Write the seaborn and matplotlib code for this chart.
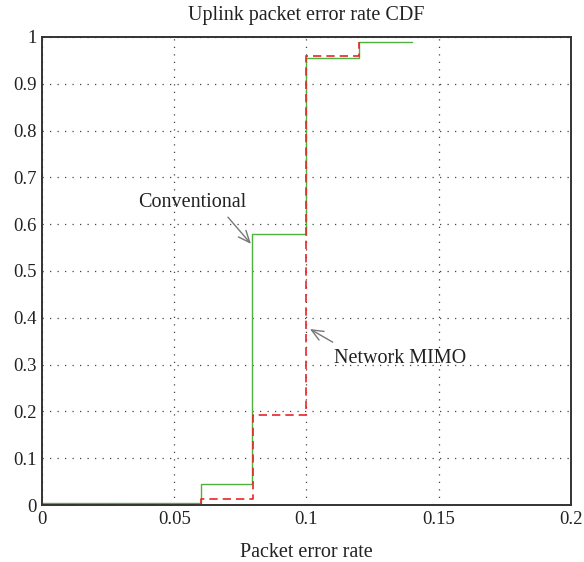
import matplotlib
matplotlib.use("Agg")
import matplotlib.pyplot as plt
import seaborn as sns
import pandas as pd

# step CDF values
conv_x = [0.0, 0.060, 0.0795, 0.100, 0.120, 0.140]
conv_y = [0.0036, 0.045, 0.578, 0.955, 0.990, 0.990]
mimo_x = [0.0, 0.060, 0.0797, 0.100, 0.120]
mimo_y = [0.0, 0.013, 0.193, 0.959, 0.990]

sns.set_theme(style="white")
plt.rcParams['font.family'] = ['Liberation Serif', 'DejaVu Serif']

fig = plt.figure(figsize=(5.84, 5.62), dpi=100)
ax = fig.add_axes([0.0719, 0.1014, 0.9058, 0.8328])

conv = pd.DataFrame({'x': conv_x, 'y': conv_y})
mimo = pd.DataFrame({'x': mimo_x, 'y': mimo_y})

sns.lineplot(data=conv, x='x', y='y', ax=ax, color='#4db33d', lw=1.0,
             drawstyle='steps-post', zorder=3)
sns.lineplot(data=mimo, x='x', y='y', ax=ax, color='#e8262a', lw=1.2,
             drawstyle='steps-post', linestyle=(0, (5, 3)), zorder=4)

ax.set_xlim(0, 0.2)
ax.set_ylim(0, 1)
ax.set_xticks([0, 0.05, 0.1, 0.15, 0.2])
ax.set_xticklabels(['0', '0.05', '0.1', '0.15', '0.2'])
ax.set_yticks([i / 10 for i in range(11)])
ax.set_yticklabels(['0'] + [f'{i/10:.1f}' for i in range(1, 10)] + ['1'])
ax.tick_params(length=0, labelsize=13.5, colors='#222222', pad=4)

ax.grid(True, linestyle=(0, (1, 5)), color='#444444', lw=0.9)
for s in ax.spines.values():
    s.set_color('#333333')
    s.set_linewidth(1.4)
    s.set_zorder(5)

ax.set_title('Uplink packet error rate CDF', fontsize=14.5, color='#222222', pad=12)
ax.set_xlabel('Packet error rate', fontsize=14.5, color='#222222', labelpad=11)
ax.set_ylabel('')

arrow = dict(arrowstyle='->, head_length=0.7, head_width=0.3', color='#777777',
             lw=1.0, shrinkA=0, shrinkB=0)
ax.text(0.0567, 0.647, 'Conventional', ha='center', va='center',
        fontsize=14.5, color='#222222')
ax.annotate('', xy=(0.079, 0.558), xytext=(0.0703, 0.615), arrowprops=arrow)
ax.text(0.1354, 0.314, 'Network MIMO', ha='center', va='center',
        fontsize=14.5, color='#222222')
ax.annotate('', xy=(0.1013, 0.376), xytext=(0.1099, 0.348), arrowprops=arrow)

fig.savefig('out.png', dpi=100)
